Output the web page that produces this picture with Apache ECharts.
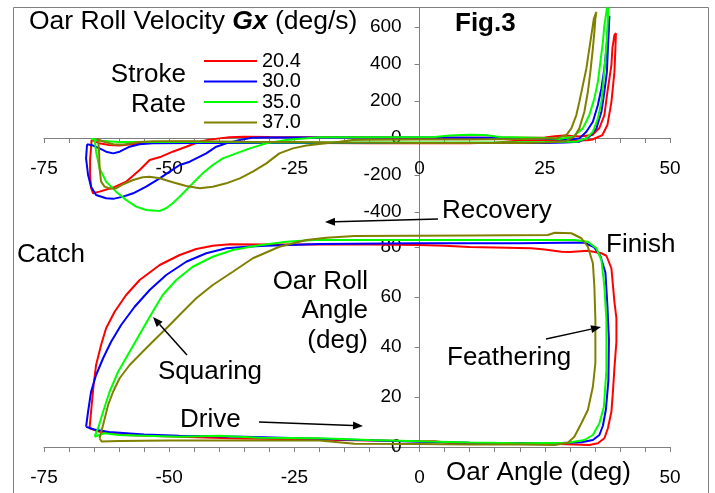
<!DOCTYPE html>
<html>
<head>
<meta charset="utf-8">
<script src="https://cdn.jsdelivr.net/npm/echarts@6/dist/echarts.min.js"></script>
<style>
  html, body { margin: 0; padding: 0; background: #fff; }
  #chart { width: 715px; height: 493px; }
</style>
</head>
<body>
<div id="chart"></div>
<script>
const strokeRates = ['20.4', '30.0', '35.0', '37.0']
const rateColors = ['#ff0000', '#0000ff', '#00ff00', '#808000']
const angleTicks = [-75, -50, -25, 0, 25, 50]
const lowerAngleTicks = [-75, -50, -25, 0, 50] // 25 sits under the axis title
const velocityTicks = [-400, -200, 0, 200, 400, 600]
const rollTicks = [0, 20, 40, 60, 80]

// top panel: oar roll velocity (deg/s) against oar angle (deg), one loop per stroke rate
const velRed = [
  [-65.5, -10], [-64, -28], [-62, -38], [-60, -40], [-57, -33], [-54, -25], [-50, -20], [-45, -20],
  [-40, -24], [-30, -27], [-20, -27], [-10, -28], [0, -28], [10, -28], [15, -25], [20, -14], [26, -12],
  [30, -14], [33.5, -12], [34.5, -8], [36.5, 16], [37.5, 70], [38.3, 194], [38.9, 356], [39.1, 486],
  [39.2, 567], [38.9, 556], [38.5, 486], [38.3, 394], [37.5, 248], [36.9, 124], [35.9, 54], [34.5, 16],
  [32, 8], [29, 14], [27, 10], [25, 3], [15, 2], [0, 2], [-15, 4], [-30, 6], [-35, 7], [-38, 4],
  [-40, -2], [-42, -10], [-44, -20], [-46.6, -47], [-49.3, -74], [-51.6, -101], [-53.9, -119],
  [-55.9, -173], [-58.6, -236], [-61.2, -268], [-63.9, -290], [-65.2, -299], [-65.6, -270],
  [-65.8, -200], [-65.8, -120], [-65.6, -50], [-65.5, -10]
]
const velBlue = [
  [-66.4, -34], [-65.2, -41], [-63.9, -56], [-62.6, -74], [-61.2, -83], [-59.9, -74], [-57.9, -47],
  [-55.9, -34], [-53.3, -29], [-45, -27], [-30, -27], [-15, -27], [0, -27], [15, -27], [25, -27],
  [29, -25], [31.9, -20], [33.9, 7], [35.3, 52], [36.3, 142], [36.9, 250], [37.4, 358], [37.6, 484],
  [37.8, 592], [37.9, 660], [37.8, 660], [37.6, 592], [37.3, 484], [36.9, 376], [36.3, 268],
  [35.6, 178], [34.6, 88], [33.3, 34], [31.9, -2], [29.3, -11], [25, -3], [15, 2], [0, 3], [-15, 3],
  [-30, 3], [-33.3, 2], [-35.9, -11], [-38.6, -29], [-40.6, -47], [-42.6, -83], [-44.6, -110],
  [-45.9, -128], [-47.9, -146], [-49.9, -182], [-51.9, -218], [-54.6, -263], [-57.2, -299],
  [-59.2, -317], [-61.2, -329], [-62.6, -326], [-64.6, -308], [-65.6, -263], [-66.2, -200],
  [-66.6, -110], [-66.4, -34]
]
const velGreen = [
  [-65.5, -5], [-64, -15], [-60, -22], [-50, -22], [-40, -22], [-30, -24], [-20, -24], [0, -24],
  [15, -24], [25, -22], [29, -20], [31.3, -20], [33.3, -2], [34.6, 34], [35.6, 106], [36.3, 196],
  [36.7, 304], [37.1, 430], [37.4, 538], [37.6, 646], [37.7, 760], [37.5, 760], [37.3, 682],
  [36.9, 610], [36.6, 520], [36.1, 412], [35.6, 304], [34.9, 214], [33.9, 124], [32.6, 52],
  [30.6, 7], [27.9, -5], [25, 0], [16, 5], [13, 16], [10, 18], [6, 14], [3, 5], [-10, 4], [-20, 4],
  [-22.6, -2], [-26.6, -11], [-30.6, -29], [-33.9, -56], [-36.6, -83], [-39.3, -110], [-41.3, -146],
  [-43.3, -191], [-45.3, -245], [-46.6, -281], [-47.9, -317], [-49.3, -353], [-50.6, -380],
  [-51.9, -394], [-54.6, -389], [-56.6, -371], [-58.6, -335], [-60.6, -290], [-62.6, -236],
  [-63.9, -164], [-64.6, -74], [-64.9, -5], [-65.5, -5]
]
const velOlive = [
  [-64.5, -5], [-63, -20], [-61, -35], [-59, -35], [-56, -22], [-53, -17], [-45, -17], [-35, -20],
  [-25, -22], [-10, -25], [0, -27], [10, -27], [20, -27], [25, -25], [27, -22], [29.3, -16],
  [30.9, 7], [31.9, 52], [32.9, 142], [33.6, 250], [34.1, 358], [34.6, 484], [34.9, 574], [35.1, 646],
  [35.3, 682], [35.1, 682], [34.8, 646], [34.4, 574], [33.9, 484], [33.3, 376], [32.6, 286],
  [31.9, 196], [31.3, 124], [30.3, 52], [29.3, 16], [27.3, -2], [20, -5], [10, -8], [0, -8],
  [-10, -10], [-13.4, -11], [-16, -20], [-20, -32], [-22.6, -41], [-25.3, -56], [-28, -83],
  [-30.6, -137], [-33.3, -182], [-35.9, -218], [-38.6, -245], [-41.3, -263], [-43.9, -272],
  [-46.6, -259], [-49.3, -239], [-51.9, -218], [-53.9, -209], [-55.3, -212], [-57.2, -227],
  [-59.2, -250], [-60.6, -272], [-61.6, -275], [-62.9, -263], [-63.6, -236], [-63.9, -164],
  [-64.0, -74], [-64.2, -5], [-64.5, -5]
]

// bottom panel: oar roll angle (deg) against oar angle (deg)
const rollRed = [
  [-65.9, 7.5], [-63.9, 6.1], [-59.3, 4.8], [-47.9, 4.1], [-37.9, 3.5], [-16, 2.8], [0, 2.3],
  [3, 2.3], [6, 1.6], [25, 1.4], [33.9, 0.8], [35.6, 1.5], [36.9, 3.5], [37.6, 7.5], [38.3, 14.1],
  [38.6, 22.1], [38.9, 31.5], [39.3, 42.1], [39.3, 51.5], [38.9, 58.1], [38.6, 64.8], [38.3, 71.5],
  [37.3, 76.5], [36.3, 77.5], [33.6, 78.5], [30, 78], [28.3, 78.1], [25, 79], [22.3, 79.5],
  [10, 80], [5, 80.5], [0, 80.8], [-10, 81], [-20, 81], [-30, 81], [-37.9, 81.1], [-41.3, 80.5],
  [-44.6, 79.2], [-47.9, 76.8], [-51.9, 72.8], [-55.9, 66.8], [-58.6, 60.8], [-60.9, 54.1],
  [-62.6, 47.5], [-63.6, 40.8], [-64.6, 32.8], [-65.1, 24.8], [-65.6, 14.1], [-65.9, 7.5]
]
const rollBlue = [
  [-66.6, 8.1], [-65, 7], [-62, 6], [-55, 5], [-48, 4.5], [-35, 4.1], [-20, 3.3], [-10, 2.7],
  [0, 2.1], [10, 1.7], [20, 1.5], [27, 1.5], [32.3, 1.9], [34.6, 2.8], [35.9, 4.8], [36.6, 8.5],
  [37.2, 15], [37.7, 26.5], [37.8, 43], [37.5, 56.5], [37.1, 69.8], [36.1, 76.4], [34.8, 80],
  [32.8, 81.8], [20, 81.5], [0, 81.5], [-20, 81.2], [-30.6, 80.5], [-34.6, 80.1], [-38.6, 79.5],
  [-42.6, 77.5], [-46.6, 74.1], [-50.6, 68.8], [-53.9, 62.8], [-56.9, 56.1], [-59.6, 48.8],
  [-61.6, 42.1], [-63.2, 35.5], [-64.6, 28.8], [-65.6, 22.1], [-66.2, 14.1], [-66.6, 8.1]
]
const rollGreen = [
  [-64.9, 4.1], [-63, 5.5], [-60, 4.8], [-55, 4.5], [-48, 4.1], [-40, 4.5], [-32, 3.7], [-20, 3.5],
  [-10, 2.8], [0, 2.3], [10, 1.8], [20, 1.5], [29.6, 1.7], [32.9, 2.8], [34.6, 4.8], [35.9, 9.5],
  [36.8, 16.1], [37.3, 30.8], [37.3, 50.8], [36.9, 64.1], [36.3, 74.8], [35.3, 79.5], [33.6, 82.1],
  [31, 82.8], [15, 82.8], [0, 82.8], [-21.3, 82.8], [-26.6, 82.1], [-32.6, 80.5], [-37.3, 78.8],
  [-41.3, 76.1], [-45.3, 72.1], [-48.6, 66.8], [-51.3, 60.8], [-53.3, 54.1], [-55.6, 46.1],
  [-57.9, 38.1], [-60.2, 30.1], [-61.9, 22.1], [-63.2, 14.1], [-64.2, 7.5], [-64.9, 4.1]
]
const rollOlive = [
  [-63.9, 3.5], [-63.5, 2.2], [-60, 2.4], [-50, 2.6], [-40, 2.6], [-30, 2.6], [-20, 2.6], [-13, 1.3],
  [0, 1.2], [10, 1], [20, 1], [27, 0.8], [29.6, 1.7], [30.9, 4.1], [32.3, 9.5], [33.6, 14.8],
  [34.6, 24.1], [35.1, 33.5], [35.1, 50.8], [34.9, 64.1], [34.6, 73.5], [33.6, 80.1], [32.3, 83.5],
  [30.3, 85.5], [27, 85.7], [25.6, 84.8], [10, 84.6], [-13, 84.4], [-18.6, 83.7], [-22.6, 82.8],
  [-28, 80.1], [-33.3, 75.5], [-37.3, 70.1], [-41.3, 64.8], [-44.6, 59.5], [-47.3, 54.1],
  [-49.9, 48.8], [-52.6, 43.5], [-55.3, 38.1], [-57.9, 32.8], [-59.9, 27.5], [-61.2, 22.1],
  [-62.2, 16.8], [-63.2, 8.8], [-63.9, 3.5]
]

const velocityLoops = [velRed, velBlue, velGreen, velOlive]
const rollLoops = [rollRed, rollBlue, rollGreen, rollOlive]

const FONT = '"Liberation Sans", Arial, sans-serif'
const axisGray = '#808080'

// both panels share the same oar angle scale; the axes cross at zero
const PLOT_LEFT = 44, PLOT_WIDTH = 626
const TOP_GRID = { top: 8.5, height: 212.75, min: -450, max: 700 }
const LOW_GRID = { top: 222, height: 225, min: 0, max: 90 }
const xZero = PLOT_WIDTH * (0 - -75) / (50 - -75)
const topZero = TOP_GRID.height * (0 - TOP_GRID.min) / (TOP_GRID.max - TOP_GRID.min)

const makeXAxis = (gridIndex, offset, labels) => ({
  type: 'value',
  gridIndex,
  min: -75,
  max: 50,
  interval: 5,
  offset,
  splitLine: { show: false },
  axisLine: { onZero: false, lineStyle: { color: axisGray, width: 1 } },
  axisTick: { length: 5, lineStyle: { color: axisGray } },
  axisLabel: {
    margin: 21,
    color: '#000',
    fontSize: 19,
    fontFamily: FONT,
    formatter: v => (labels.includes(v) ? String(v) : '')
  }
})

const makeYAxis = (gridIndex, g, ticks) => ({
  type: 'value',
  gridIndex,
  min: g.min,
  max: g.max,
  offset: -xZero,
  splitLine: { show: false },
  axisLine: { onZero: false, lineStyle: { color: axisGray, width: 1 } },
  axisTick: { length: 5, customValues: ticks, lineStyle: { color: axisGray } },
  axisLabel: { margin: 18, color: '#000', fontSize: 19, fontFamily: FONT, customValues: ticks }
})

const text = (str, x, y, opts = {}) => ({
  type: 'text',
  z: 100,
  style: {
    text: str,
    x,
    y,
    fill: '#000',
    font: `${opts.weight || 'normal'} ${opts.size || 26}px ${FONT}`,
    textAlign: opts.align || 'left',
    textVerticalAlign: 'middle',
    rich: opts.rich
  }
})

// annotation arrow: a line with a filled head at (x2, y2)
const arrow = (x1, y1, x2, y2) => {
  const a = Math.atan2(y2 - y1, x2 - x1)
  const len = 10, half = 4
  const bx = x2 - len * Math.cos(a), by = y2 - len * Math.sin(a)
  const nx = -Math.sin(a) * half, ny = Math.cos(a) * half
  return [
    { type: 'line', z: 100, shape: { x1, y1, x2: bx, y2: by }, style: { stroke: '#000', lineWidth: 1.5 } },
    { type: 'polygon', z: 100, shape: { points: [[x2, y2], [bx + nx, by + ny], [bx - nx, by - ny]] }, style: { fill: '#000' } }
  ]
}

const series = []
strokeRates.forEach((rate, i) => {
  series.push({
    name: rate, type: 'line', xAxisIndex: 0, yAxisIndex: 0,
    data: velocityLoops[i], showSymbol: false, smooth: false,
    lineStyle: { width: 2, color: rateColors[i] }, itemStyle: { color: rateColors[i] }
  })
})
strokeRates.forEach((rate, i) => {
  series.push({
    name: rate, type: 'line', xAxisIndex: 1, yAxisIndex: 1,
    data: rollLoops[i], showSymbol: false, smooth: false, clip: false,
    lineStyle: { width: 2, color: rateColors[i] }, itemStyle: { color: rateColors[i] }
  })
})

const chart = echarts.init(document.getElementById('chart'))
chart.setOption({
  animation: false,
  backgroundColor: '#fff',
  grid: [
    { left: PLOT_LEFT, width: PLOT_WIDTH, top: TOP_GRID.top, height: TOP_GRID.height },
    { left: PLOT_LEFT, width: PLOT_WIDTH, top: LOW_GRID.top, height: LOW_GRID.height }
  ],
  xAxis: [makeXAxis(0, -topZero, angleTicks), makeXAxis(1, 0, lowerAngleTicks)],
  yAxis: [
    makeYAxis(0, TOP_GRID, velocityTicks),
    makeYAxis(1, LOW_GRID, rollTicks)
  ],
  legend: {
    data: strokeRates,
    orient: 'vertical',
    left: 204,
    top: 51,
    padding: 0,
    itemGap: 0.5,
    itemWidth: 53,
    itemHeight: 2,
    icon: 'rect',
    selectedMode: false,
    textStyle: { fontSize: 20, lineHeight: 20, color: '#000', fontFamily: FONT }
  },
  graphic: [
    { type: 'rect', z: 0, shape: { x: 13.5, y: 7.5, width: 695, height: 495 }, style: { fill: null, stroke: '#7f7f7f', lineWidth: 1 } },
    text('Oar Roll Velocity {b|Gx} (deg/s)', 29, 22, {
      size: 26.5,
      rich: { b: { fontStyle: 'italic', fontWeight: 'bold', fontSize: 26.5, fontFamily: FONT } }
    }),
    text('Fig.3', 455, 24, { weight: 'bold' }),
    text('Stroke', 186, 75, { align: 'right' }),
    text('Rate', 186, 105, { align: 'right' }),
    text('Catch', 17, 255),
    text('Recovery', 442, 211),
    text('Finish', 606, 245),
    text('Oar Roll', 368, 282, { align: 'right' }),
    text('Angle', 368, 311, { align: 'right' }),
    text('(deg)', 368, 341, { align: 'right' }),
    text('Squaring', 158, 372),
    text('Feathering', 447, 358),
    text('Drive', 180, 420),
    text('Oar Angle (deg)', 446, 473),
    ...arrow(438, 219, 325, 222),
    ...arrow(187, 355, 153, 317),
    ...arrow(259, 422, 363, 426),
    ...arrow(546, 339, 601, 327)
  ],
  series
})
</script>
</body>
</html>
